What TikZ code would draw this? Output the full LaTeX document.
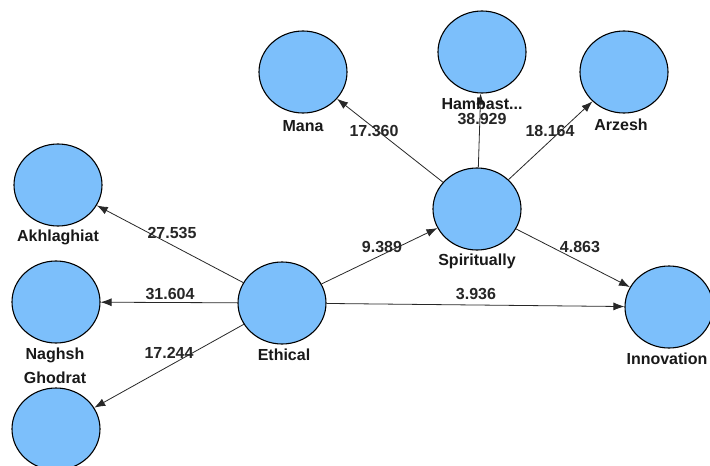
\documentclass[tikz,border=0pt]{standalone}
\usepackage{fontspec}
\setmainfont{Liberation Sans}
\usetikzlibrary{shapes.geometric,arrows.meta}
\definecolor{lvfill}{RGB}{124,191,251}
\definecolor{edgecol}{RGB}{40,40,40}
\begin{document}
\begin{tikzpicture}[x=1pt,y=-1pt,
  lv/.style={ellipse,draw=black,line width=1.1pt,fill=lvfill,minimum width=88pt,minimum height=82pt,inner sep=0pt},
  lbl/.style={font=\fontsize{16}{18}\selectfont\bfseries,text=black!90,inner sep=0pt},
  num/.style={font=\fontsize{16}{18}\selectfont\bfseries,text=black!85,inner sep=0pt},
  conn/.style={draw=edgecol,line width=0.8pt,-{Latex[length=11pt,width=8pt]}}]
\useasboundingbox (0,0) rectangle (710,466);
\fill[white] (0,0) rectangle (710,466);
% latent variables
\node[lv] (mana) at (303,72) {};
\node[lv] (hamb) at (482,52) {};
\node[lv] (arz) at (624,72) {};
\node[lv] (akh) at (58,185) {};
\node[lv] (nagh) at (56,302) {};
\node[lv] (ghod) at (56,429) {};
\node[lv] (eth) at (282,303) {};
\node[lv] (spir) at (477,209) {};
\node[lv] (inno) at (669,307) {};
% connectors
\draw[conn] (spir) -- (mana);
\draw[conn] (spir) -- (hamb);
\draw[conn] (spir) -- (arz);
\draw[conn] (eth) -- (akh);
\draw[conn] (eth) -- (nagh);
\draw[conn] (eth) -- (ghod);
\draw[conn] (eth) -- (spir);
\draw[conn] (spir) -- (inno);
\draw[conn] (eth) -- (inno);
% names
\node[lbl] (lmana) at (303,126) {Mana};
\node[lbl] (lhamb) at (482,104) {Hambast...};
\node[lbl] (larz) at (621,125) {Arzesh};
\node[lbl] (lakh) at (58,237) {Akhlaghiat};
\node[lbl] (lnagh) at (55,355) {Naghsh};
\node[lbl] (lghod) at (55,378) {Ghodrat};
\node[lbl] (leth) at (284,355) {Ethical};
\node[lbl] (lspir) at (477,261) {Spiritually};
\node[lbl] (linno) at (667,359) {Innovation};
% path coefficients / t-values
\node[num] (n1) at (374,131) {17.360};
\node[num] (n2) at (482,119) {38.929};
\node[num] (n3) at (550,131) {18.164};
\node[num] (n4) at (172,233) {27.535};
\node[num] (n5) at (170,294) {31.604};
\node[num] (n6) at (169,353) {17.244};
\node[num] (n7) at (382,247) {9.389};
\node[num] (n8) at (476,294) {3.936};
\node[num] (n9) at (580,247) {4.863};
\end{tikzpicture}
\end{document}
